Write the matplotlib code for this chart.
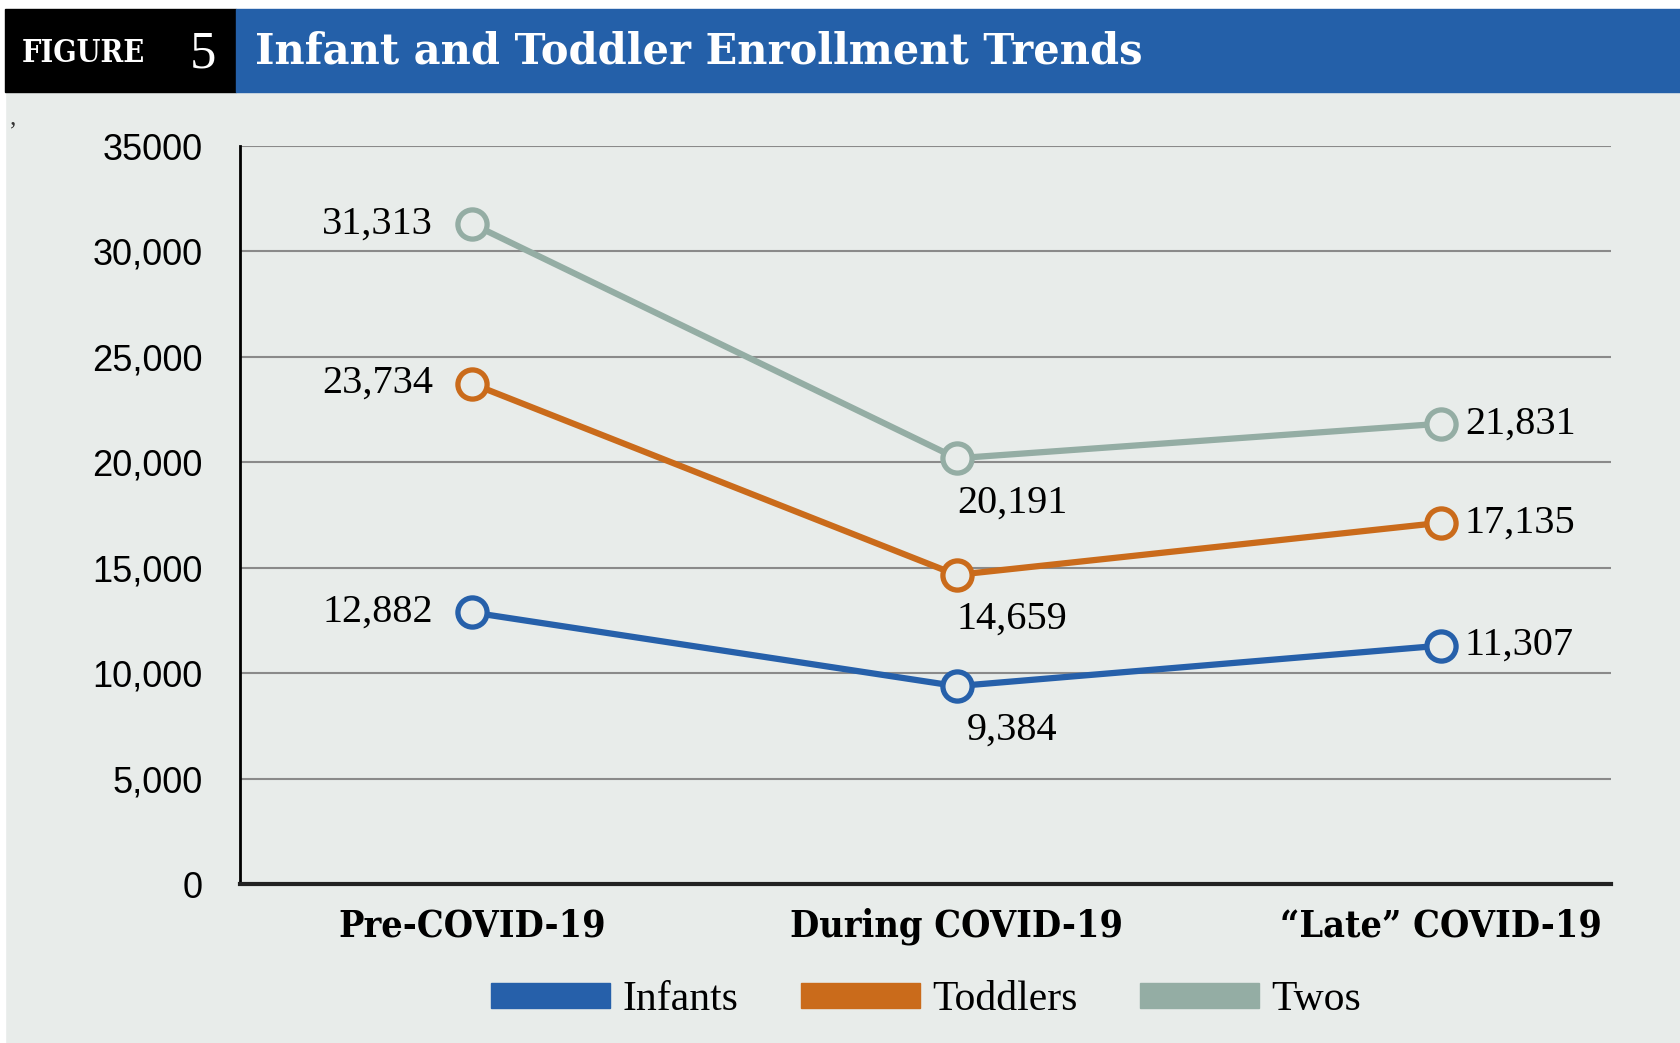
import matplotlib.pyplot as plt
from matplotlib.patches import Rectangle, Patch

# 数据
periods = ['Pre-COVID-19', 'During COVID-19', '\u201cLate\u201d COVID-19']
infants = [12882, 9384, 11307]
toddlers = [23734, 14659, 17135]
twos = [31313, 20191, 21831]
series_names = ['Infants', 'Toddlers', 'Twos']
yticks = [0, 5000, 10000, 15000, 20000, 25000, 30000, 35000]
ytick_labels = ['0', '5,000', '10,000', '15,000', '20,000', '25,000', '30,000', '35000']

colors = {'Infants': '#2660AA', 'Toddlers': '#CA6B1B', 'Twos': '#94ADA4'}
bg = '#E8ECEA'
W, H = 1681, 1043

fig = plt.figure(figsize=(W / 100, H / 100), dpi=100, facecolor=bg)

# 顶部和左侧白边, 标题栏
fig.patches.append(Rectangle((0, 1 - 9 / H), 1, 9 / H, transform=fig.transFigure, color='white', zorder=0))
fig.patches.append(Rectangle((0, 0), 5 / W, 1, transform=fig.transFigure, color='white', zorder=0))
fig.patches.append(Rectangle((5 / W, 1 - 92 / H), 231 / W, 83 / H, transform=fig.transFigure, color='black', zorder=1))
fig.patches.append(Rectangle((236 / W, 1 - 92 / H), 1 - 236 / W, 83 / H, transform=fig.transFigure, color='#2460A9', zorder=1))

serif = ['Liberation Serif', 'DejaVu Serif']
slab = ['DejaVu Serif']
narrow = ['Liberation Sans Narrow', 'Liberation Sans', 'DejaVu Sans']

fig.text(22 / W, 1 - 53 / H, 'FIGURE', color='white', fontsize=22, fontweight='bold', family=slab,
         va='center', stretch='condensed')
fig.text(190 / W, 1 - 55 / H, '5', color='white', fontsize=38, family=serif, va='center')
fig.text(255 / W, 1 - 51 / H, 'Infant and Toddler Enrollment Trends', color='white', fontsize=30,
         fontweight='bold', family=slab, va='center')
fig.text(10 / W, 1 - 118 / H, ',', color='#333333', fontsize=18, family=serif, va='center')

ax = fig.add_axes([240 / W, 1 - 884 / H, (1611 - 240) / W, (884 - 146) / H])
ax.set_facecolor(bg)

x = list(range(len(periods)))
for name, vals in zip(series_names, [infants, toddlers, twos]):
    ax.plot(x, vals, color=colors[name], lw=4.5, marker='o', ms=21, mfc=bg, mec=colors[name], mew=3.8,
            zorder=3, solid_capstyle='round')

# 数据标签
for vals in [infants, toddlers, twos]:
    ax.annotate(f'{vals[0]:,}', (0, vals[0]), xytext=(-28, 0), textcoords='offset points',
                ha='right', va='center', fontsize=29, family=serif)
    ax.annotate(f'{vals[1]:,}', (1, vals[1]), xytext=(40, -32), textcoords='offset points',
                ha='center', va='center', fontsize=29, family=serif)
    ax.annotate(f'{vals[2]:,}', (2, vals[2]), xytext=(17, 0), textcoords='offset points',
                ha='left', va='center', fontsize=29, family=serif)

ax.set_xlim(-0.478, 2.35)
ax.set_ylim(0, 35000)
ax.set_yticks(yticks, ytick_labels)
ax.set_xticks(x, periods)
ax.tick_params(axis='y', length=0, pad=27, labelsize=26)
ax.tick_params(axis='x', length=0, pad=17, labelsize=27)
for lab in ax.get_yticklabels():
    lab.set_family(narrow)
for lab in ax.get_xticklabels():
    lab.set_family(slab)
    lab.set_fontweight('bold')
    lab.set_fontstretch('condensed')

ax.grid(axis='y', color='#8A8A8A', lw=1.5)
ax.set_axisbelow(True)
for s in ['top', 'right']:
    ax.spines[s].set_visible(False)
ax.spines['left'].set_linewidth(2)
ax.spines['left'].set_color('black')
ax.spines['bottom'].set_linewidth(3)
ax.spines['bottom'].set_color('#222222')

handles = [Patch(color=colors[n], label=n) for n in series_names]
fig.legend(handles=handles, loc='center', bbox_to_anchor=(0.551, 1 - 1000 / H), ncol=3, frameon=False,
           prop={'family': serif, 'size': 30}, handlelength=2.85, handleheight=0.55, handletextpad=0.3,
           columnspacing=1.5)

fig.savefig('out.png', dpi=100, facecolor=bg)
